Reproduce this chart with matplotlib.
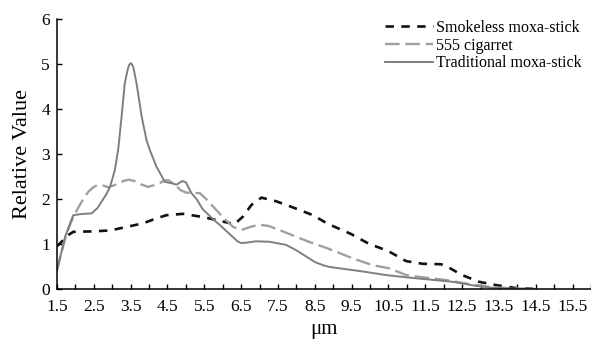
import matplotlib
matplotlib.use("Agg")
import matplotlib.pyplot as plt

plt.rcParams['font.family'] = ['Liberation Serif', 'DejaVu Serif']

# Smokeless moxa-stick
smokeless_x = [1.5, 1.81, 1.94, 2.44, 2.94, 3.39, 3.84, 4.2, 4.47, 4.92, 5.46, 6.0, 6.32,
               6.55, 6.78, 7.05, 7.45, 7.95, 8.45, 8.85, 9.49, 9.98, 10.48, 10.98, 11.43,
               11.93, 12.2, 12.47, 12.96, 13.46, 13.96, 14.5]
smokeless_y = [0.95, 1.2, 1.27, 1.28, 1.3, 1.38, 1.46, 1.57, 1.64, 1.67, 1.6, 1.5, 1.44,
               1.61, 1.87, 2.03, 1.95, 1.8, 1.64, 1.45, 1.22, 1.0, 0.85, 0.62, 0.56,
               0.55, 0.45, 0.32, 0.16, 0.08, 0.02, 0.0]

# 555 cigarret
cig_x = [1.5, 1.76, 1.95, 2.17, 2.35, 2.5, 2.62, 2.75, 2.89, 3.1, 3.3, 3.45, 3.6, 3.8,
         3.97, 4.2, 4.4, 4.52, 4.7, 4.85, 5.01, 5.38, 5.55, 5.74, 6.0, 6.28, 6.5, 6.75,
         7.0, 7.25, 7.54, 8.09, 8.4, 8.72, 9.08, 9.53, 10.07, 10.52, 10.98, 11.52,
         12.06, 12.69, 13.2, 13.7, 14.3]
cig_y = [0.42, 1.24, 1.62, 1.94, 2.16, 2.27, 2.31, 2.3, 2.26, 2.32, 2.4, 2.43, 2.4, 2.32,
         2.27, 2.32, 2.4, 2.42, 2.32, 2.2, 2.14, 2.13, 2.0, 1.83, 1.6, 1.38, 1.31, 1.38,
         1.43, 1.4, 1.31, 1.13, 1.03, 0.94, 0.83, 0.68, 0.53, 0.46, 0.31, 0.25,
         0.2, 0.11, 0.05, 0.02, 0.0]

# Traditional moxa-stick
trad_x = [1.5, 1.72, 1.94, 2.2, 2.44, 2.6, 2.71, 2.85, 2.94, 3.07, 3.16, 3.25, 3.34, 3.42,
          3.46, 3.5, 3.54, 3.58, 3.66, 3.8, 3.93, 4.02, 4.2, 4.43, 4.61, 4.75, 4.9, 5.0,
          5.15, 5.29, 5.45, 5.7, 5.95, 6.19, 6.4, 6.5, 6.64, 6.9, 7.27, 7.72, 8.0, 8.27,
          8.5, 8.72, 8.9, 9.17, 9.8, 10.43, 10.98, 11.61, 12.24, 12.87, 13.3, 13.8, 14.5]
trad_y = [0.42, 1.16, 1.64, 1.67, 1.68, 1.8, 1.94, 2.12, 2.27, 2.64, 3.09, 3.8, 4.57, 4.88,
          4.98, 5.02, 4.99, 4.9, 4.57, 3.83, 3.31, 3.09, 2.72, 2.38, 2.35, 2.32, 2.4, 2.37,
          2.13, 2.0, 1.78, 1.58, 1.4, 1.22, 1.06, 1.02, 1.03, 1.06, 1.05, 0.98, 0.86, 0.72,
          0.6, 0.53, 0.49, 0.46, 0.39, 0.31, 0.26, 0.21, 0.16, 0.07, 0.03, 0.01, 0.0]

x_ticks = [1.5 + 0.5 * i for i in range(30)]
x_labels = [f"{t:.1f}" if (t - 1.5) % 1 == 0 else "" for t in x_ticks]

fig = plt.figure(figsize=(5.91, 3.42), dpi=100)
ax = fig.add_axes([57 / 591, 1 - 289 / 342, 534 / 591, 270 / 342])

ax.plot(smokeless_x, smokeless_y, color="#111111", lw=1.9, dashes=(3.2, 2.8),
        label="Smokeless moxa-stick")
ax.plot(cig_x, cig_y, color="#a0a0a0", lw=1.7, dashes=(6.2, 2.4),
        label="555 cigarret")
ax.plot(trad_x, trad_y, color="#7f7f7f", lw=1.4, label="Traditional moxa-stick")

ax.set_xlim(1.5, 16)
ax.set_ylim(0, 6)
ax.set_xticks(x_ticks)
ax.set_xticklabels(x_labels)
ax.set_yticks(range(7))
ax.tick_params(direction="in", length=3.5, width=1, labelsize=12.5)
ax.tick_params(axis="x", pad=7)
ax.tick_params(axis="y", pad=5)
for s in ["top", "right"]:
    ax.spines[s].set_visible(False)
for s in ["left", "bottom"]:
    ax.spines[s].set_linewidth(1.1)

ax.set_ylabel("Relative Value", fontsize=16, labelpad=7)
ax.set_xlabel("μm", fontsize=15, labelpad=4)

ax.legend(loc="upper right", bbox_to_anchor=(0.995, 1.02), frameon=False,
          fontsize=11.5, handlelength=3.0, handletextpad=0.2, labelspacing=0.1,
          borderaxespad=0)

fig.savefig("out.png", dpi=100)
